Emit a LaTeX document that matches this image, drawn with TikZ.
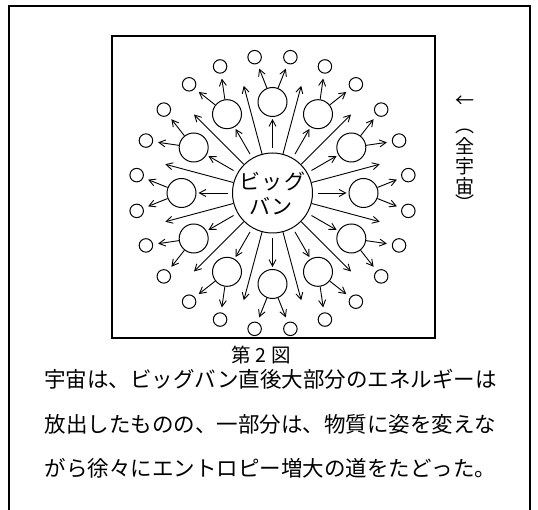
\documentclass[tikz,border=0pt]{standalone}
\usepackage{fontspec}
\newfontfamily\jp{Noto Sans CJK JP}
\usetikzlibrary{arrows.meta}
\begin{document}
\begin{tikzpicture}[x=1pt,y=1pt,
  arr/.style={-{Straight Barb[length=6.5pt,width=7pt]}, line width=0.9pt},
  bigc/.style={circle, draw, line width=1pt, minimum size=80pt, inner sep=0pt},
  med/.style={circle, draw, line width=1pt, minimum size=29pt, inner sep=0pt},
  sml/.style={circle, draw, line width=1pt, minimum size=13.5pt, inner sep=0pt},
  frameline/.style={line width=1.5pt},
  boxline/.style={line width=1.1pt},
  bodytxt/.style={inner sep=0pt, font=\jp\fontsize{21.5}{21.5}\selectfont},
  captxt/.style={inner sep=0pt, font=\jp\fontsize{19.5}{19.5}\selectfont},
  bbtxt/.style={inner sep=0pt, font=\jp\fontsize{21}{21}\selectfont},
  vtxt/.style={inner sep=0pt, font=\jp\fontsize{19}{19}\selectfont}]
\useasboundingbox (0,0) rectangle (538,-510);
% outer frame (open at bottom)
\coordinate (fl) at (9,-511);
\coordinate (fr) at (530,-511);
\draw[frameline] (fl) -- (9,-6) -- (530,-6) -- (fr);
% inner box
\node[draw, boxline, minimum width=323pt, minimum height=302pt, inner sep=0pt] (box) at (273.5,-187) {};
% big bang
\node[bigc] (bb) at (272.5,-193) {};
\node[bbtxt] (bbt1) at (272.5,-181) {ビ\hspace{2pt}ッ\hspace{2pt}グ};
\node[bbtxt] (bbt2) at (271,-206) {バ\hspace{2pt}ン};
\begin{scope}[shift={(272.5,-193)}]
  \foreach \i in {0,...,11} {
    \pgfmathsetmacro{\a}{\i*30}
    \node[med] (m\i) at (\a:91) {};
    \coordinate (s\i) at (\a:45);
    \coordinate (e\i) at (\a:74);
    \draw[arr] (s\i) -- (e\i);
    \coordinate (l\i) at (\a+15:111);
    \draw[arr] (bb) -- (l\i);
  }
  \foreach \j in {0,...,23} {
    \pgfmathsetmacro{\b}{\j*15+7.5}
    \node[sml] (o\j) at (\b:137) {};
  }
\end{scope}
\foreach \i in {0,...,11} {
  \pgfmathtruncatemacro{\ja}{2*\i}
  \pgfmathtruncatemacro{\jb}{mod(2*\i+23,24)}
  \draw[arr, shorten >=5pt] (m\i) -- (o\ja);
  \draw[arr, shorten >=5pt] (m\i) -- (o\jb);
}
% vertical label
\node[vtxt] (va) at (465,-102) {←};
\node[vtxt] (vp1) at (465,-131) {︵};
\node[vtxt] (v1) at (465,-146) {全};
\node[vtxt] (v2) at (465,-166) {宇};
\node[vtxt] (v3) at (465,-186) {宙};
\node[vtxt] (vp2) at (465,-203) {︶};
% caption and text
\node[captxt] (cap) at (261,-355) {第\hspace{5pt}2\hspace{5pt}図};
\node[bodytxt] (t1) at (270.5,-379) {宇宙は、ビッグバン直後大部分のエネルギーは};
\node[bodytxt] (t2) at (270.5,-424) {放出したものの、一部分は、物質に姿を変えな};
\node[bodytxt] (t3) at (270.5,-468) {がら徐々にエントロピー増大の道をたどった。};
\end{tikzpicture}
\end{document}
